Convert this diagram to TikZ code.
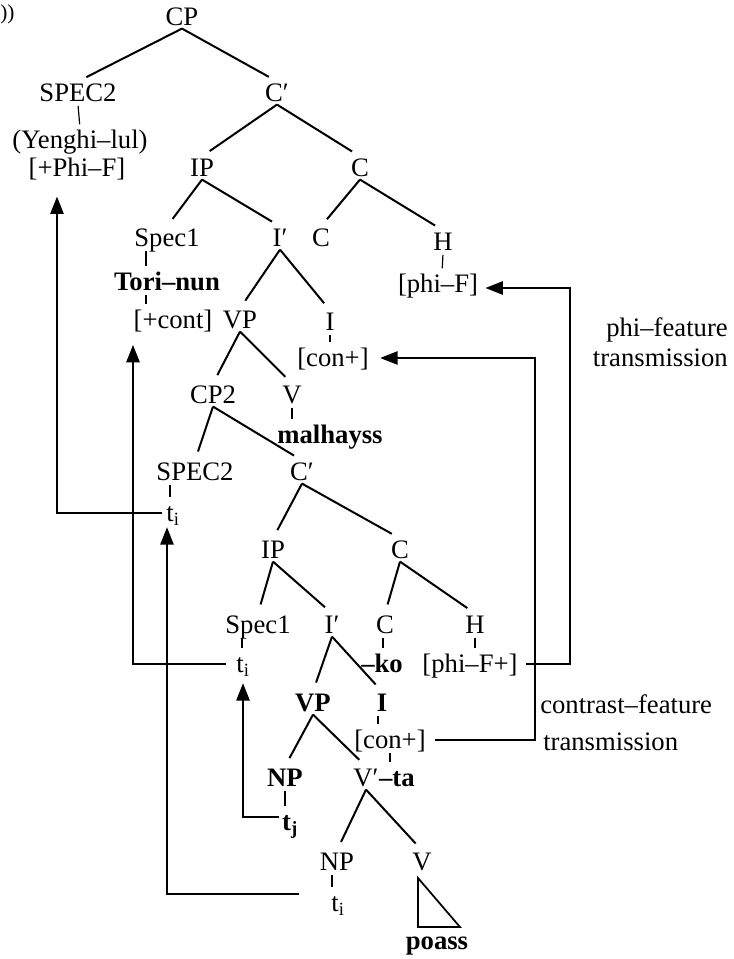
\documentclass[tikz,border=0pt]{standalone}
\usepackage{fontspec}
\setmainfont{Liberation Serif}
\usetikzlibrary{arrows.meta}
\begin{document}
\begin{tikzpicture}[x=0.75pt,y=-0.75pt,
  lab/.style={inner sep=0pt,text height=15pt,text depth=2pt,font=\fontsize{20}{24}\selectfont},
  bl/.style={lab,font=\fontsize{20}{24}\selectfont\bfseries},
  branch/.style={line width=1.5pt,shorten >=7pt},
  tick/.style={line width=0.9pt,shorten <=1pt,shorten >=3pt},
  arr/.style={line width=1.1pt,-{Triangle[length=13pt,width=10pt]}},
  plainline/.style={line width=1.3pt,line join=miter}]
\useasboundingbox (0,0) rectangle (734,959);
\node[anchor=west,inner sep=0pt,font=\fontsize{16}{18}\selectfont] (num) at (0,14) {))};
% upper tree
\node[lab] (cp) at (182,17) {CP};
\node[lab] (spA) at (78,93) {SPEC2};
\node[lab] (yen) at (80,140) {(Yenghi--lul)};
\node[lab] (phiP) at (77,168) {[+Phi--F]};
\node[lab] (cbA) at (277,93) {C′};
\node[lab] (ipA) at (202,168) {IP};
\node[lab] (cA) at (360,168) {C};
\node[lab] (s1A) at (167,238) {Spec1};
\node[lab] (ibA) at (280,238) {I′};
\node[lab] (cA2) at (321,238) {C};
\node[lab] (hA) at (443,242) {H};
\node[bl] (tori) at (167,282) {Tori--nun};
\node[lab] (phiF) at (438,284) {[phi--F]};
\node[lab] (cont) at (173,320) {[+cont]};
\node[lab] (vpA) at (240,320) {VP};
\node[lab] (iA) at (330,322) {I};
\node[lab] (conA) at (333,358) {[con+]};
\node[lab] (cp2) at (213,395) {CP2};
\node[lab] (vA) at (292,395) {V};
\node[bl] (mal) at (330,435) {malhayss};
% lower tree
\node[lab] (spB) at (195,472) {SPEC2};
\node[lab] (cbB) at (302,472) {C′};
\node[lab] (tiA) at (173,513) {t\textsubscript{i}};
\node[lab] (ipB) at (273,550) {IP};
\node[lab] (cB) at (400,550) {C};
\node[lab] (s1B) at (258,625) {Spec1};
\node[lab] (ibB) at (332,625) {I′};
\node[lab] (cB2) at (385,625) {C};
\node[lab] (hB) at (475,625) {H};
\node[lab] (tiB) at (243,664) {t\textsubscript{i}};
\node[bl] (ko) at (382,664) {--ko};
\node[lab] (phiFp) at (470,664) {[phi--F+]};
\node[bl] (vpB) at (313,703) {VP};
\node[bl] (iB) at (382,703) {I};
\node[lab] (conB) at (390,740) {[con+]};
\node[bl] (npA) at (285,778) {NP};
\node[lab] (vbar) at (366,778) {V′};
\node[bl,anchor=west] (ta) at (vbar.east) {--ta};
\node[bl] (tj) at (290,822) {t\textsubscript{j}};
\node[lab] (npB) at (337,862) {NP};
\node[lab] (vB) at (422,862) {V};
\node[lab] (tiC) at (338,903) {t\textsubscript{i}};
\node[bl] (poass) at (437,941) {poass};
% side labels
\node[lab,anchor=east] (phl1) at (728,328) {phi--feature};
\node[lab,anchor=east] (phl2) at (728,358) {transmission};
\node[lab,anchor=west] (ctl1) at (540,705) {contrast--feature};
\node[lab,anchor=west] (ctl2) at (543,742) {transmission};
% branches
\foreach \p/\c in {cp/spA,cp/cbA,cbA/ipA,cbA/cA,ipA/s1A,ipA/ibA,cA/cA2,cA/hA,
  ibA/vpA,ibA/iA,vpA/cp2,vpA/vA,cp2/spB,cp2/cbB,cbB/ipB,cbB/cB,ipB/s1B,ipB/ibB,
  cB/cB2,cB/hB,ibB/vpB,ibB/iB,vpB/npA,vpB/vbar,vbar/npB,vbar/vB}
  \draw[branch] (\p.south) -- (\c.north);
% ticks
\draw[tick] (spA.south) -- (yen.north);
\draw[tick] ([xshift=-15.75pt]s1A.south) -- ([xshift=-15.75pt]tori.north);
\draw[tick] ([xshift=-15.75pt]tori.south) -- ([xshift=-20.25pt]cont.north);
\draw[tick] (hA.south) -- ([xshift=3pt]phiF.north);
\draw[tick] (iA.south) -- ([xshift=-2.25pt]conA.north);
\draw[tick] (vA.south) -- ([xshift=-28.5pt]mal.north);
\draw[tick] ([xshift=-18.75pt]spB.south) -- ([xshift=-2.25pt]tiA.north);
\draw[tick] ([xshift=-12pt]s1B.south) -- ([xshift=-0.75pt]tiB.north);
\draw[tick] ([xshift=-1.5pt]cB2.south) -- ([xshift=0.75pt]ko.north);
\draw[tick] (hB.south) -- ([xshift=3.75pt]phiFp.north);
\draw[tick] ([xshift=-3pt]iB.south) -- ([xshift=-9pt]conB.north);
\draw[tick] (conB.south) -- (conB.south |- ta.north);
\draw[tick] (npA.south) -- ([xshift=-3.75pt]tj.north);
\draw[tick] ([xshift=-3.75pt]npB.south) -- ([xshift=-4.5pt]tiC.north);
% triangle under V
\draw[plainline] (418,878) -- (418,927) -- (460,927) -- cycle;
% movement arrows
\draw[arr,shorten <=3pt,shorten >=12.75pt] (tiA.west) -| ([xshift=-15pt]phiP.south);
\draw[arr,shorten <=7.5pt,shorten >=10pt] (tiB.west) -| ([xshift=-30pt]cont.south);
\draw[arr,shorten <=23.8pt,shorten >=2pt] ([yshift=6.75pt]tiC.west) -| ([xshift=-4.5pt]tiA.south);
\draw[arr,shorten <=2.25pt,shorten >=5.7pt] ([yshift=3.75pt]tj.west) -| (tiB.south);
% feature transmission
\draw[arr,shorten <=6pt,shorten >=5.4pt] (phiFp.east) -- ++(52,0) |- ([yshift=-3pt]phiF.east);
\draw[arr,shorten <=7pt,shorten >=8.5pt] (conB.east) -- ++(109,0) |- (conA.east);
\end{tikzpicture}
\end{document}
